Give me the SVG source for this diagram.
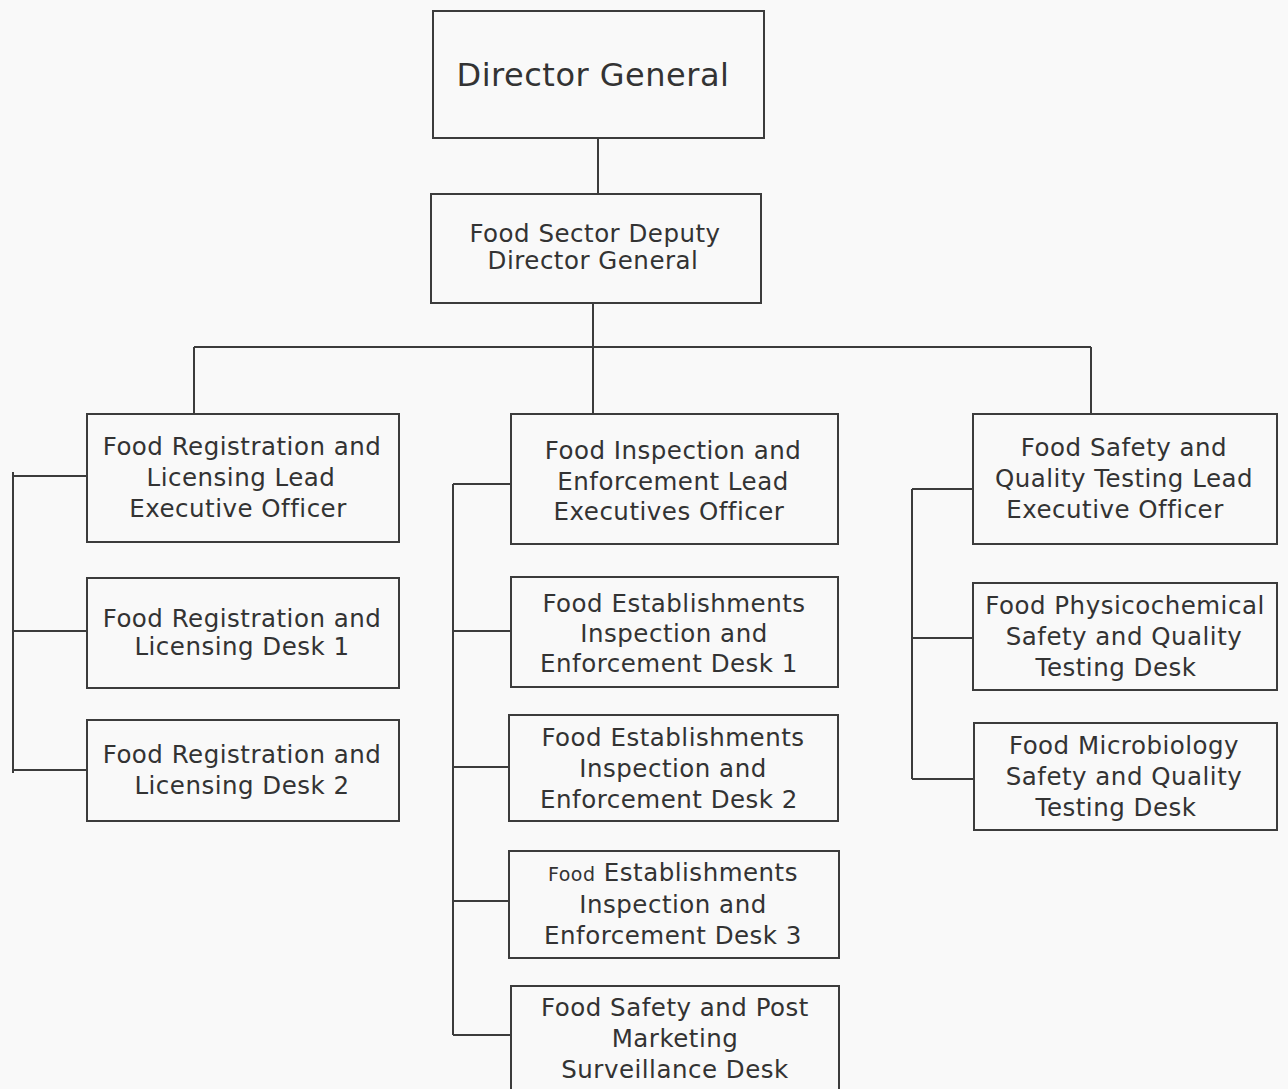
<svg xmlns="http://www.w3.org/2000/svg" width="1288" height="1089" viewBox="0 0 1288 1089">
<style>
.bx{fill:none;stroke:#3c3c3c;stroke-width:2}
.ln{fill:none;stroke:#3c3c3c;stroke-width:2}
text{font-family:"DejaVu Sans","Verdana",sans-serif;font-size:24.5px;letter-spacing:0.5px;fill:#333;text-anchor:middle}
.big{font-size:32px}
.sm{font-size:19px}
</style>
<rect width="1288" height="1089" fill="#f9f9f9"/>
<g id="connectors">
<path class="ln" d="M598 138V194"/>
<path class="ln" d="M593 303V414M194 347H1091M194 347V414M1091 347V414"/>
<path class="ln" d="M13 472V773M13 476H87M13 631H87M13 770H87"/>
<path class="ln" d="M453 484V1035M453 484H511M453 631H511M453 767H509M453 901H509M453 1035H511"/>
<path class="ln" d="M912 489V779M912 489H973M912 638H973M912 779H973"/>
</g>
<g id="director-general">
<rect class="bx" x="433" y="11" width="331" height="127"/>
<text class="big" x="593" y="86">Director General</text>
</g>
<g id="deputy-director-general">
<rect class="bx" x="431" y="194" width="330" height="109"/>
<text x="595" y="242">Food Sector Deputy</text>
<text x="593" y="269">Director General</text>
</g>
<g id="reg-lead">
<rect class="bx" x="87" y="414" width="312" height="128"/>
<text x="242" y="455">Food Registration and</text>
<text x="241" y="486">Licensing Lead</text>
<text x="238" y="517">Executive Officer</text>
</g>
<g id="reg-desk-1">
<rect class="bx" x="87" y="578" width="312" height="110"/>
<text x="242" y="627">Food Registration and</text>
<text x="242" y="655">Licensing Desk 1</text>
</g>
<g id="reg-desk-2">
<rect class="bx" x="87" y="720" width="312" height="101"/>
<text x="242" y="763">Food Registration and</text>
<text x="242" y="794">Licensing Desk 2</text>
</g>
<g id="insp-lead">
<rect class="bx" x="511" y="414" width="327" height="130"/>
<text x="673" y="459">Food Inspection and</text>
<text x="673" y="490">Enforcement Lead</text>
<text x="669" y="520">Executives Officer</text>
</g>
<g id="insp-desk-1">
<rect class="bx" x="511" y="577" width="327" height="110"/>
<text x="674" y="612">Food Establishments</text>
<text x="674" y="642">Inspection and</text>
<text x="669" y="672">Enforcement Desk 1</text>
</g>
<g id="insp-desk-2">
<rect class="bx" x="509" y="715" width="329" height="106"/>
<text x="673" y="746">Food Establishments</text>
<text x="673" y="777">Inspection and</text>
<text x="669" y="808">Enforcement Desk 2</text>
</g>
<g id="insp-desk-3">
<rect class="bx" x="509" y="851" width="330" height="107"/>
<text x="673" y="881"><tspan class="sm">Food</tspan> Establishments</text>
<text x="673" y="913">Inspection and</text>
<text x="673" y="944">Enforcement Desk 3</text>
</g>
<g id="post-marketing-desk">
<rect class="bx" x="511" y="986" width="328" height="110"/>
<text x="675" y="1016">Food Safety and Post</text>
<text x="675" y="1047">Marketing</text>
<text x="675" y="1078">Surveillance Desk</text>
</g>
<g id="testing-lead">
<rect class="bx" x="973" y="414" width="304" height="130"/>
<text x="1124" y="456">Food Safety and</text>
<text x="1124" y="487">Quality Testing Lead</text>
<text x="1115" y="518">Executive Officer</text>
</g>
<g id="physicochemical-desk">
<rect class="bx" x="973" y="583" width="304" height="107"/>
<text x="1125" y="614">Food Physicochemical</text>
<text x="1124" y="645">Safety and Quality</text>
<text x="1116" y="676">Testing Desk</text>
</g>
<g id="microbiology-desk">
<rect class="bx" x="974" y="723" width="303" height="107"/>
<text x="1124" y="754">Food Microbiology</text>
<text x="1124" y="785">Safety and Quality</text>
<text x="1116" y="816">Testing Desk</text>
</g>
</svg>
